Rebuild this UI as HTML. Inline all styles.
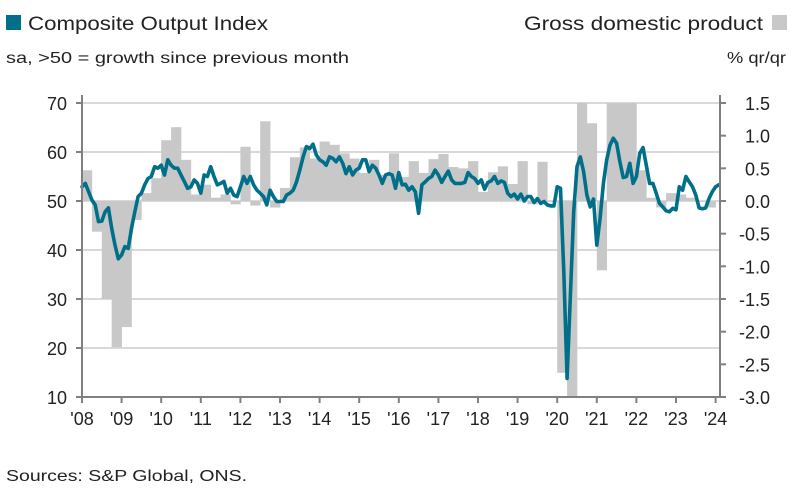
<!DOCTYPE html>
<html><head><meta charset="utf-8"><style>
body{margin:0;background:#fff;width:801px;height:496px;overflow:hidden;font-family:"Liberation Sans",sans-serif;}
</style></head><body>
<svg id="chart" width="801" height="496" font-family="Liberation Sans, sans-serif">
  <rect x="6" y="15" width="15" height="15" fill="#00708a"/>
  <text x="28" y="30" font-size="19" fill="#222" textLength="240" lengthAdjust="spacingAndGlyphs">Composite Output Index</text>
  <text x="6" y="63" font-size="16" fill="#222" textLength="343" lengthAdjust="spacingAndGlyphs">sa, &gt;50 = growth since previous month</text>
  <text x="524" y="30" font-size="19" fill="#222" textLength="239" lengthAdjust="spacingAndGlyphs">Gross domestic product</text>
  <rect x="772" y="15" width="15" height="15" fill="#c8c8c8"/>
  <text x="727" y="63" font-size="16" fill="#222" textLength="59" lengthAdjust="spacingAndGlyphs">% qr/qr</text>
  <g id="grid"></g><g id="bars"></g><g id="line"></g><g id="axes"></g>
  <text x="6" y="481" font-size="16" fill="#222" textLength="241" lengthAdjust="spacingAndGlyphs">Sources: S&amp;P Global, ONS.</text>
</svg>
<script>
const leftTicks=[70,60,50,40,30,20,10];
const rightTicks=["1.5","1.0","0.5","0.0","-0.5","-1.0","-1.5","-2.0","-2.5","-3.0"];
const yearLabels=["'08","'09","'10","'11","'12","'13","'14","'15","'16","'17","'18","'19","'20","'21","'22","'23","'24"];
const gdp=[0.47,-0.47,-1.5,-2.24,-1.93,-0.29,0.12,0.35,0.93,1.13,0.63,0.1,0.25,0.05,0.1,-0.05,0.83,-0.07,1.22,-0.1,0.2,0.67,0.82,0.65,0.91,0.86,0.73,0.65,0.43,0.63,0.4,0.73,0.37,0.61,0.43,0.64,0.72,0.52,0.5,0.61,0.14,0.44,0.53,0.26,0.61,-0.05,0.6,0.0,-2.63,-19,16,1.19,-1.06,5.5,1.7,1.6,0.47,0.05,-0.1,0.12,0.1,0.05,0.0,-0.1];
const pmi=[52.9,53.6,51.9,50.2,49.2,45.8,45.9,47.8,48.6,44.4,41,38.2,
39,40.7,40.3,44.4,47.8,50.9,51.6,53.3,54.6,55,57,56.7,
57.3,55.3,58.4,57.3,56.7,56.7,55.3,54,52.6,52.9,54.3,53.6,
51.6,55.3,55,57,55,53.3,53.6,54,51.6,52.6,51.2,50.9,
52.9,55,53.6,55,53.3,52.2,51.6,50.9,49.2,52.2,50.9,49.9,
49.9,49.9,51.2,51.6,52.2,53.9,56.3,59,61.1,60.7,61.6,59.4,
58.4,58,57.3,59,58.7,58,59,57.7,55.6,57,55.3,56.3,
56.7,58.4,58.4,56,57.3,56.7,55.3,53.6,55.3,55.6,55.3,52.6,
55.8,53.3,53.4,52.2,52.9,51.9,47.5,53.3,53.9,54.6,55,56.3,
55.3,53.8,55,56.1,54.3,53.6,53.6,53.6,53.8,55.8,55,54.6,
53.6,54.3,52.4,53.8,54.1,55,53.6,54.1,53.8,51.6,50.9,51.4,
50.4,51.4,50,50.9,50.9,49.7,50.5,49.5,49.9,49.2,49,49,
52.9,52.6,35.6,13.8,30.8,47.8,57,59,56,51.2,48.8,50.4,
41,46.5,53.6,58.4,61.4,62.8,61.8,58,54.8,55,57.7,53.6,
55,59.7,60.9,57.3,53.6,53.6,51.6,49.5,48.8,48,47.8,48.5,
48.2,52.9,52.2,55,53.9,52.9,51.2,48.6,48.4,48.6,50.5,51.9,
52.9,53.3];
const NS="http://www.w3.org/2000/svg";
const X0=82,YR=39.6,TOP=103,BOT=397,L=82,R=720;
const xYear=t=>X0+t*YR;
const yL=v=>TOP+(70-v)*(BOT-TOP)/60;
const yR=v=>TOP+(1.5-v)*(BOT-TOP)/4.5;
function mk(tag,a,p){const e=document.createElementNS(NS,tag);for(const k in a)e.setAttribute(k,a[k]);p.appendChild(e);return e;}
const grid=document.getElementById('grid'),bars=document.getElementById('bars'),line=document.getElementById('line'),axes=document.getElementById('axes');
leftTicks.forEach(v=>{
  if(v>10){const g=mk('line',{x1:L,x2:R,y1:yL(v),y2:yL(v),stroke:'#d9d9d9','stroke-width':2},grid);
  
  }
  const t=mk('text',{x:67,y:yL(v)+7,'font-size':18,fill:'#222','text-anchor':'end'},axes);t.textContent=v;
  
  
});
rightTicks.forEach(s=>{
  const v=parseFloat(s),y=yR(v);
  mk('line',{x1:R,x2:R+6,y1:y,y2:y,stroke:'#808080','stroke-width':2},axes);
  const t=mk('text',{x:770,y:y+7,'font-size':18,fill:'#222','text-anchor':'end'},axes);t.textContent=s;
  
  
});
gdp.forEach((v,i)=>{
  const x=xYear(i/4),w=YR/4;
  const vc=Math.max(-3,Math.min(1.5,v));
  const y1=Math.min(yR(0),yR(vc)),h=Math.abs(yR(vc)-yR(0));
  const b=mk('rect',{x:x,y:y1,width:w+0.3,height:Math.max(h,0.5),fill:'#c8c8c8'},bars);
  
  
});
const pts=pmi.map((v,i)=>xYear(i/12).toFixed(1)+','+yL(v).toFixed(1)).join(' ');
const pl=mk('polyline',{points:pts,fill:'none',stroke:'#00708a','stroke-width':3.6,'stroke-linejoin':'round','stroke-linecap':'round'},line);


mk('line',{x1:L,x2:L,y1:TOP-8,y2:BOT+1,stroke:'#808080','stroke-width':2},axes);
mk('line',{x1:R,x2:R,y1:TOP-8,y2:BOT+1,stroke:'#808080','stroke-width':2},axes);
leftTicks.forEach(v=>mk('line',{x1:L-6,x2:L,y1:yL(v),y2:yL(v),stroke:'#808080','stroke-width':2},axes));
mk('line',{x1:L,x2:R,y1:BOT,y2:BOT,stroke:'#808080','stroke-width':2},axes);
yearLabels.forEach((s,i)=>{
  const x=xYear(i);
  mk('line',{x1:x,x2:x,y1:BOT,y2:BOT+6,stroke:'#808080','stroke-width':2},axes);
  const t=mk('text',{x:x,y:BOT+28,'font-size':18,fill:'#222','text-anchor':'middle'},axes);t.textContent=s;
  
  
});
</script>
</body></html>
